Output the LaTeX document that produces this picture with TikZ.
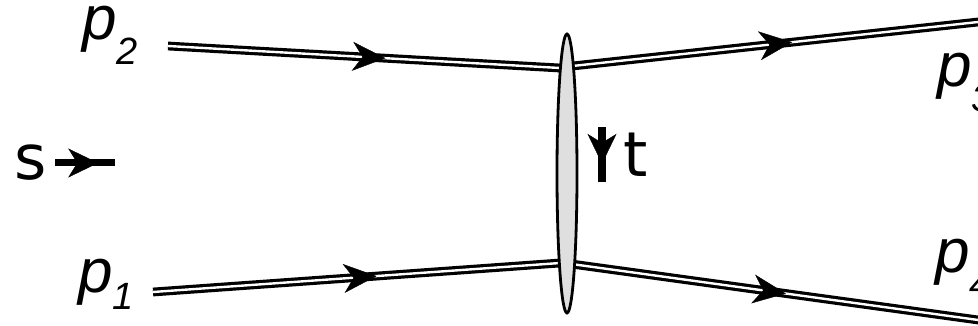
\documentclass[tikz,border=0pt]{standalone}
\usepackage{fontspec}
\newfontfamily\pfont{Liberation Sans}
\newfontfamily\stfont{DejaVu Sans}
\usetikzlibrary{arrows.meta,decorations.markings,shapes.geometric}
\begin{document}
\begin{tikzpicture}[x=1pt,y=-1pt,
  mom/.style={draw=black, double=white, double distance=2.4pt, line width=3.2pt},
  tipat/.style={decorate, decoration={markings, mark=at position #1 with {\arrow{Stealth[length=33pt,width=29pt,inset=10pt]}}}},
  smalltip/.style={decorate, decoration={markings, mark=at position #1 with {\arrow{Stealth[length=30pt,width=29pt,inset=9pt]}}}},
  lbl/.style={inner sep=0pt, anchor=base west},
  blob/.style={ellipse, draw=black, line width=2.8pt, fill=gray!25, minimum width=20pt, minimum height=279pt, inner sep=0pt}]
\useasboundingbox (0,0) rectangle (978,326);
% external legs
\coordinate (a2) at (168,46);
\coordinate (v2l) at (567,68.4);
\coordinate (v2r) at (567,66.6);
\coordinate (a3) at (992,20.5);
\coordinate (a1) at (153,292);
\coordinate (v1l) at (567,262.5);
\coordinate (v1r) at (567,263.4);
\coordinate (a4) at (992,321.9);
\draw[mom] (a2) -- (v2l);
\draw[mom] (v2r) -- (a3);
\draw[mom] (a1) -- (v1l);
\draw[mom] (v1r) -- (a4);
\path[tipat=0.545] (a2) -- (v2l);
\path[tipat=0.53] (v2r) -- (a3);
\path[tipat=0.54] (a1) -- (v1l);
\path[tipat=0.515] (v1r) -- (a4);
% blob
\node[blob] (vx) at (567,173.5) {};
% labels
\node[lbl] (p2) at (82,40) {\pfont\itshape\fontsize{62}{62}\selectfont p\raisebox{-25pt}{\fontsize{38}{38}\selectfont 2}};
\node[lbl] (p1) at (78,292) {\pfont\itshape\fontsize{62}{62}\selectfont p\raisebox{-17pt}{\fontsize{38}{38}\selectfont 1}};
\node[lbl] (p3) at (937,87) {\pfont\itshape\fontsize{62}{62}\selectfont p\raisebox{-25pt}{\fontsize{38}{38}\selectfont 3}};
\node[lbl] (p4) at (935,272) {\pfont\itshape\fontsize{62}{62}\selectfont p\raisebox{-25pt}{\fontsize{38}{38}\selectfont 4}};
\node[lbl] (s) at (14,180) {\stfont\fontsize{62}{62}\selectfont s};
\node[lbl] (t) at (623,177) {\stfont\fontsize{62}{62}\selectfont t};
% s arrow
\coordinate (s1) at (55,163);
\coordinate (s2) at (115,163);
\draw[line width=7pt] (s1) -- (s2);
\path[smalltip=0.72] (s1) -- (s2);
% t arrow
\coordinate (t1) at (602,127);
\coordinate (t2) at (602,182);
\draw[line width=7.5pt] (t1) -- (t2);
\path[smalltip=0.67] (t1) -- (t2);
\end{tikzpicture}
\end{document}
